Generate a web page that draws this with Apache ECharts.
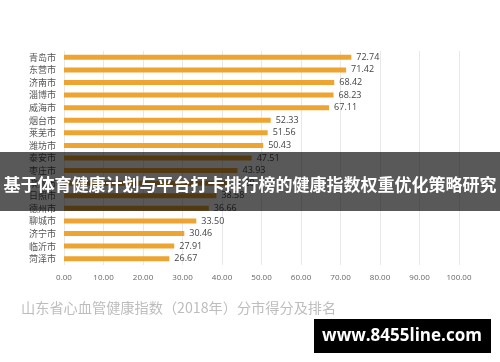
<!DOCTYPE html>
<html>
<head>
<meta charset="utf-8">
<script src="https://cdn.jsdelivr.net/npm/echarts@6/dist/echarts.min.js"></script>
<style>html,body{margin:0;padding:0;background:#fff;}#c{width:500px;height:362px;}</style>
</head>
<body>
<div id="c"></div>
<script>
var cities = ['青岛市','东营市','济南市','淄博市','威海市','烟台市','莱芜市','潍坊市','泰安市','枣庄市','滨州市','日照市','德州市','聊城市','济宁市','临沂市','菏泽市'];
var scores = [72.74,71.42,68.42,68.23,67.11,52.33,51.56,50.43,47.51,43.93,41.20,38.58,36.66,33.50,30.46,27.91,26.67];
var xTicks = [0,10,20,30,40,50,60,70,80,90,100];
var subtitle = '山东省心血管健康指数（2018年）分市得分及排名';
var banner = '基于体育健康计划与平台打卡排行榜的健康指数权重优化策略研究';
var watermark = 'www.8455line.com';

var chart = echarts.init(document.getElementById('c'), null, {renderer:'canvas'});
chart.setOption({
  animation: false,
  backgroundColor: '#fff',
  grid: {left: 64, right: 41, top: 51, bottom: 97, containLabel: false},
  title: {
    text: subtitle, left: 16, top: 296,
    textStyle: {color: '#bdbdbd', fontSize: 14.2, fontWeight: 'normal', fontFamily: 'Noto Sans CJK SC'}
  },
  xAxis: {
    type: 'value', min: xTicks[0], max: xTicks[xTicks.length-1], interval: 10,
    axisLine: {show: false}, axisTick: {show: false},
    splitLine: {show: true, lineStyle: {color: '#e8e8e8', width: 1}},
    axisLabel: {color: '#666', fontSize: 8, margin: 9, fontFamily: 'Open Sans',
      formatter: function(v){ return v.toFixed(2); }}
  },
  yAxis: {
    type: 'category', data: cities, inverse: true,
    axisLine: {show: false}, axisTick: {show: false},
    axisLabel: {color: '#555', fontSize: 9, margin: 8, fontFamily: 'Noto Sans CJK SC'}
  },
  series: [{
    type: 'bar', data: scores, barWidth: 5,
    itemStyle: {color: '#EDA431'},
    label: {show: true, position: 'right', distance: 5, color: '#444', fontSize: 9, fontFamily: 'Open Sans',
      formatter: function(p){ return p.value.toFixed(2); }}
  }],
  graphic: [
    {type: 'rect', z: 100, shape: {x: 0, y: 152, width: 500, height: 59}, style: {fill: 'rgba(0,0,0,0.65)'}},
    {type: 'text', z: 101, x: 250, y: 185, style: {text: banner, fill: '#fff', fontSize: 17, fontWeight: 'bold', fontFamily: 'Noto Sans CJK SC', align: 'center', verticalAlign: 'middle'}},
    {type: 'rect', z: 100, shape: {x: 314, y: 319, width: 177, height: 34}, style: {fill: '#000'}},
    {type: 'text', z: 101, x: 402, y: 336, style: {text: watermark, fill: '#fff', fontSize: 17, fontWeight: 'bold', fontFamily: 'Open Sans', align: 'center', verticalAlign: 'middle'}}
  ]
});
</script>
</body>
</html>
